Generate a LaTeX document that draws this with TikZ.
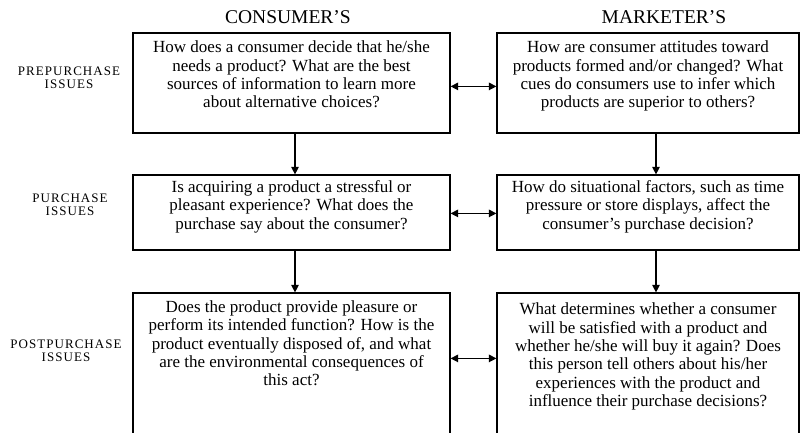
\documentclass[tikz,border=0pt]{standalone}
\usepackage{fontspec}
\setmainfont{Liberation Serif}
\newfontfamily\labelfont[LetterSpace=8]{Liberation Serif}
\usetikzlibrary{arrows.meta,calc}
% text cell of a question box: width, height, top padding, lines
\newcommand{\qcell}[4]{\parbox[c][#2][t]{#1}{\centering\vspace*{#3}#4\par}}
\begin{document}
\begin{tikzpicture}[x=1pt,y=-1pt,
  qbox/.style={draw, line width=1.2pt, inner sep=0pt,
    font=\fontsize{17}{18.4}\selectfont},
  head/.style={anchor=base, font=\fontsize{19.5}{22}\selectfont},
  side/.style={align=center, font=\labelfont\fontsize{13}{13.5}\selectfont},
  tip/.tip={Triangle[length=7.5pt,width=7.5pt]},
  link/.style={line width=1.2pt, -tip},
  both/.style={line width=1.2pt, tip-tip}]
\useasboundingbox (0,0) rectangle (801,433);
\clip (0,0) rectangle (801,433);

% column heads
\node[head] (hc) at (288,24) {CONSUMER’S};
\node[head] (hm) at (664,24) {MARKETER’S};

% stage labels
\node[side] (lpre)  at (69,78)  {PREPURCHASE\\ISSUES};
\node[side] (lpur)  at (70,205) {PURCHASE\\ISSUES};
\node[side] (lpost) at (66,351) {POSTPURCHASE\\ISSUES};

% consumer column
\node[qbox] (c1) at (291.5,83) {\qcell{317pt}{100pt}{8pt}{%
  How does a consumer decide that he/she\\
  needs a product? What are the best\\
  sources of information to learn more\\
  about alternative choices?}};
\node[qbox] (c2) at (291.5,212.5) {\qcell{317pt}{75pt}{5.5pt}{%
  Is acquiring a product a stressful or\\
  pleasant experience? What does the\\
  purchase say about the consumer?}};
\node[qbox] (c3) at (291.5,383) {\qcell{317pt}{180pt}{7.5pt}{%
  Does the product provide pleasure or\\
  perform its intended function? How is the\\
  product eventually disposed of, and what\\
  are the environmental  consequences of\\
  this act?}};

% marketer column
\node[qbox] (m1) at (648,83) {\qcell{302pt}{100pt}{8pt}{%
  How are consumer attitudes  toward\\
  products formed and/or changed? What\\
  cues do consumers use to infer which\\
  products are superior to others?}};
\node[qbox] (m2) at (648,212.5) {\qcell{302pt}{75pt}{5.5pt}{%
  How do situational  factors, such as time\\
  pressure or store displays, affect the\\
  consumer’s purchase decision?}};
\node[qbox] (m3) at (648,383) {\qcell{302pt}{180pt}{10pt}{%
  What determines whether a consumer\\
  will be satisfied with a product and\\
  whether he/she will buy it again? Does\\
  this person tell others about his/her\\
  experiences with the product and\\
  influence their purchase decisions?}};

% flow down each column
\draw[link] ([xshift=3.5pt]c1.south) -- ([xshift=3.5pt]c2.north);
\draw[link] ([xshift=3.5pt]c2.south) -- ([xshift=3.5pt]c3.north);
\draw[link] ([xshift=8pt]m1.south) -- ([xshift=8pt]m2.north);
\draw[link] ([xshift=8pt]m2.south) -- ([xshift=8pt]m3.north);

% links between the two views
\draw[both] ($(c1.north east)+(0,54)$) -- ($(m1.north west)+(0,54)$);
\draw[both] ($(c2.north east)+(0,39)$) -- ($(m2.north west)+(0,39)$);
\draw[both] ($(c3.north east)+(0,66)$) -- ($(m3.north west)+(0,66)$);
\end{tikzpicture}
\end{document}
